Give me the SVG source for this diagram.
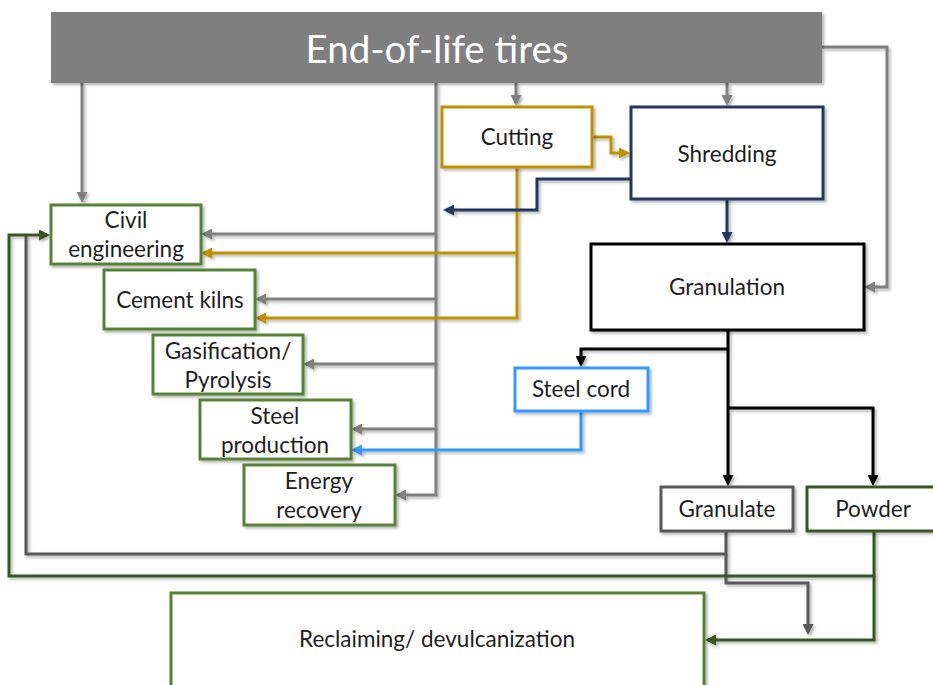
<svg xmlns="http://www.w3.org/2000/svg" width="933" height="685" viewBox="0 0 933 685">
<defs>
<style>
.box{fill:#fff;stroke-width:3}
.g{stroke:#548235}
.lbl{font-family:Lato,"Liberation Sans",sans-serif;font-size:22.5px;fill:#1e1e1e;text-anchor:middle}
.c{fill:none;stroke-width:3}
.gray{stroke:#808080}
.gold{stroke:#bf9000}
.navy{stroke:#203864}
.blk{stroke:#000}
.blue{stroke:#3399ff}
.dg{stroke:#595959}
.dgr{stroke:#385723}
</style>
<filter id="sh" x="-10%" y="-10%" width="130%" height="130%">
<feDropShadow dx="2" dy="2" stdDeviation="1.5" flood-color="#000" flood-opacity="0.3"/>
</filter>
<marker id="aGray" markerUnits="userSpaceOnUse" markerWidth="11" markerHeight="11" refX="8" refY="5.5" orient="auto"><path d="M0,0 L11,5.5 L0,11 z" fill="#808080"/></marker>
<marker id="aGold" markerUnits="userSpaceOnUse" markerWidth="11" markerHeight="11" refX="8" refY="5.5" orient="auto"><path d="M0,0 L11,5.5 L0,11 z" fill="#bf9000"/></marker>
<marker id="aNavy" markerUnits="userSpaceOnUse" markerWidth="11" markerHeight="11" refX="8" refY="5.5" orient="auto"><path d="M0,0 L11,5.5 L0,11 z" fill="#203864"/></marker>
<marker id="aBlk" markerUnits="userSpaceOnUse" markerWidth="11" markerHeight="11" refX="8" refY="5.5" orient="auto"><path d="M0,0 L11,5.5 L0,11 z" fill="#000"/></marker>
<marker id="aBlue" markerUnits="userSpaceOnUse" markerWidth="11" markerHeight="11" refX="8" refY="5.5" orient="auto"><path d="M0,0 L11,5.5 L0,11 z" fill="#3399ff"/></marker>
<marker id="aDg" markerUnits="userSpaceOnUse" markerWidth="11" markerHeight="11" refX="8" refY="5.5" orient="auto"><path d="M0,0 L11,5.5 L0,11 z" fill="#595959"/></marker>
<marker id="aDgr" markerUnits="userSpaceOnUse" markerWidth="11" markerHeight="11" refX="8" refY="5.5" orient="auto"><path d="M0,0 L11,5.5 L0,11 z" fill="#385723"/></marker>
</defs>
<rect width="933" height="685" fill="#fff"/>

<g id="connectors" filter="url(#sh)">
<path class="c gray" d="M82,83 V200" marker-end="url(#aGray)"/>
<path class="c gray" d="M436,83 V495 H398" marker-end="url(#aGray)"/>
<path class="c gray" d="M436,234 H204" marker-end="url(#aGray)"/>
<path class="c gray" d="M436,299 H258" marker-end="url(#aGray)"/>
<path class="c gray" d="M436,364 H306" marker-end="url(#aGray)"/>
<path class="c gray" d="M436,429 H354" marker-end="url(#aGray)"/>
<path class="c gray" d="M516,83 V103" marker-end="url(#aGray)"/>
<path class="c gray" d="M727,83 V103" marker-end="url(#aGray)"/>
<path class="c gray" d="M822,47 H887 V287 H867" marker-end="url(#aGray)"/>
<path class="c gold" d="M592,137 H611 V153 H627" marker-end="url(#aGold)"/>
<path class="c gold" d="M517,167 V318 H258" marker-end="url(#aGold)"/>
<path class="c gold" d="M517,253 H204" marker-end="url(#aGold)"/>
<path class="c navy" d="M631,179 H537 V210 H446" marker-end="url(#aNavy)"/>
<path class="c navy" d="M727,199 V240" marker-end="url(#aNavy)"/>
<path class="c blk" d="M728,330 V483" marker-end="url(#aBlk)"/>
<path class="c blk" d="M728,349 H581 V364" marker-end="url(#aBlk)"/>
<path class="c blk" d="M728,408 H873 V483" marker-end="url(#aBlk)"/>
<path class="c blue" d="M581,411 V450 H354" marker-end="url(#aBlue)"/>
<path class="c dg" d="M726,531 V554 H26 V235"/>
<path class="c dg" d="M726,554 V583 H808 V632" marker-end="url(#aDg)"/>
<path class="c dgr" d="M874,531 V576 H9 V235 H47" marker-end="url(#aDgr)"/>
<path class="c dgr" d="M874,576 V640 H708" marker-end="url(#aDgr)"/>
</g>

<g id="eol">
<rect x="51" y="12" width="771" height="71" fill="#7f7f7f" filter="url(#sh)"/>
<text x="437" y="63" font-family="Lato,'Liberation Sans',sans-serif" font-size="38.5" fill="#fff" text-anchor="middle">End-of-life tires</text>
</g>
<g id="cutting">
<rect class="box" x="442" y="107" width="150" height="60" stroke="#bf9000" filter="url(#sh)"/>
<text class="lbl" x="517" y="145">Cutting</text>
</g>
<g id="shredding">
<rect class="box" x="631" y="107" width="192" height="92" stroke="#203864" filter="url(#sh)"/>
<text class="lbl" x="727" y="162">Shredding</text>
</g>
<g id="granulation">
<rect class="box" x="591" y="244" width="273" height="86" stroke="#000" filter="url(#sh)"/>
<text class="lbl" x="727" y="295">Granulation</text>
</g>
<g id="civil">
<rect class="box g" x="51" y="205" width="150" height="59" filter="url(#sh)"/>
<text class="lbl" x="126" y="228">Civil</text>
<text class="lbl" x="126" y="257">engineering</text>
</g>
<g id="cement">
<rect class="box g" x="104" y="270" width="151" height="59" filter="url(#sh)"/>
<text class="lbl" x="180" y="308">Cement kilns</text>
</g>
<g id="gasification">
<rect class="box g" x="153" y="335" width="150" height="59" filter="url(#sh)"/>
<text class="lbl" x="228" y="359">Gasification/</text>
<text class="lbl" x="228" y="388">Pyrolysis</text>
</g>
<g id="steelprod">
<rect class="box g" x="200" y="400" width="151" height="59" filter="url(#sh)"/>
<text class="lbl" x="275" y="424">Steel</text>
<text class="lbl" x="275" y="453">production</text>
</g>
<g id="energy">
<rect class="box g" x="244" y="465" width="151" height="60" filter="url(#sh)"/>
<text class="lbl" x="319" y="489">Energy</text>
<text class="lbl" x="319" y="518">recovery</text>
</g>
<g id="steelcord">
<rect class="box" x="515" y="368" width="133" height="43" stroke="#3399ff" filter="url(#sh)"/>
<text class="lbl" x="581" y="397">Steel cord</text>
</g>
<g id="granulate">
<rect class="box" x="661" y="487" width="132" height="44" stroke="#595959" filter="url(#sh)"/>
<text class="lbl" x="727" y="517">Granulate</text>
</g>
<g id="powder">
<rect class="box" x="807" y="487" width="134" height="44" stroke="#385723" filter="url(#sh)"/>
<text class="lbl" x="873" y="517">Powder</text>
</g>
<g id="reclaiming">
<rect class="box g" x="171" y="593" width="533" height="100" filter="url(#sh)"/>
<text class="lbl" x="437" y="647">Reclaiming/ devulcanization</text>
</g>
</svg>
